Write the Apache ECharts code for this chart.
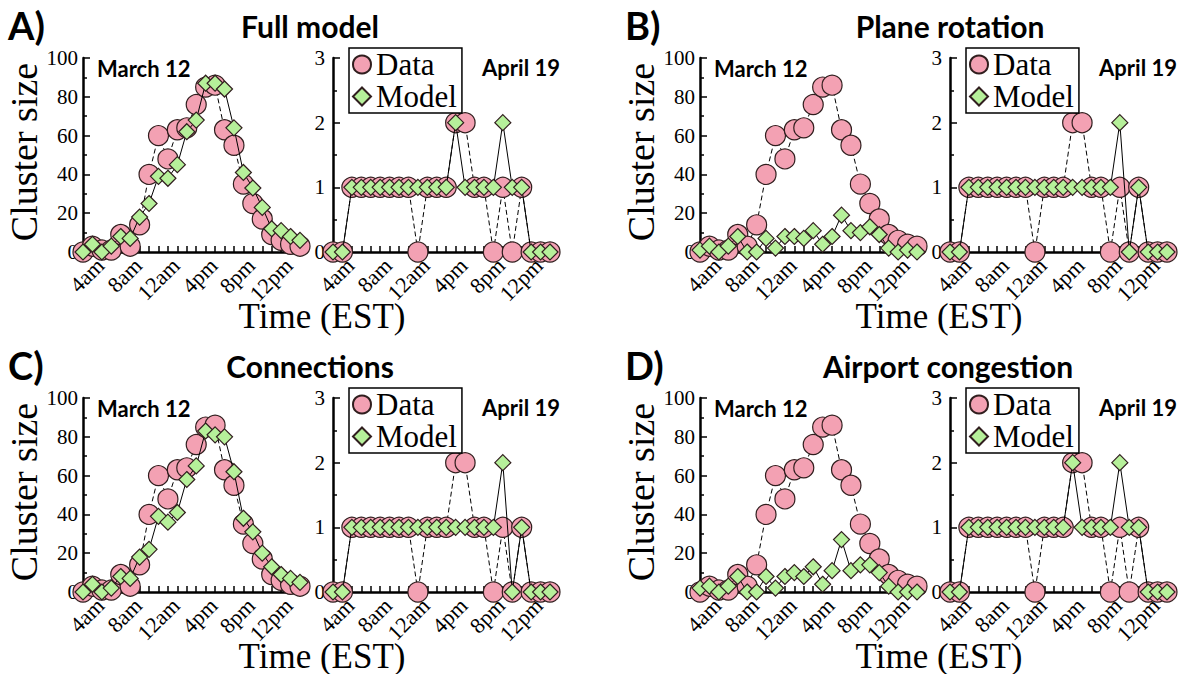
<!DOCTYPE html>
<html>
<head>
<meta charset="utf-8">
<script src="https://cdn.jsdelivr.net/npm/echarts@6/dist/echarts.min.js"></script>
<style>
html,body{margin:0;padding:0;background:#fff}
#main{width:1185px;height:674px}
</style>
</head>
<body>
<div id="main"></div>
<script>
// hourly samples, 3am .. 2am next day (figure labels noon "12am", midnight "12pm")
var hours = ['3am','4am','5am','6am','7am','8am','9am','10am','11am','12am','1pm','2pm',
             '3pm','4pm','5pm','6pm','7pm','8pm','9pm','10pm','11pm','12pm','1am','2am'];

// observed cluster sizes
var marchData = [0, 3, 1, 1, 9, 3, 14, 40, 60, 48, 63, 64, 76, 85, 86, 63, 55, 35, 25, 17, 9, 6, 4, 3];
var aprilData = [0, 0, 1, 1, 1, 1, 1, 1, 1, 0, 1, 1, 1, 2, 2, 1, 1, 0, 1, 0, 1, 0, 0, 0];

// model runs
var marchFull  = [0, 4, 0, 3, 8, 7, 18, 25, 39, 38, 45, 62, 68, 87, 87, 84, 64, 41, 33, 23, 12, 11, 8, 6];
var marchPlane = [1, 3, 0, 3, 8, 0, 0, 7, 2, 8, 8, 7, 11, 4, 8, 19, 11, 10, 13, 9, 2, 0, 1, 0];
var marchConn  = [0, 4, 0, 2, 8, 7, 18, 22, 39, 36, 41, 58, 65, 83, 81, 80, 62, 38, 31, 20, 13, 9, 7, 5];
var marchCong  = [2, 3, 0, 3, 8, 0, 0, 8, 2, 8, 10, 8, 13, 4, 11, 27, 11, 14, 14, 10, 3, 0, 0, 0];

var aprilFull  = [0, 0, 1, 1, 1, 1, 1, 1, 1, 1, 1, 1, 1, 2, 1, 1, 1, 1, 2, 1, 1, 0, 0, 0];
var aprilPlane = [0, 0, 1, 1, 1, 1, 1, 1, 1, 1, 1, 1, 1, 1, 1, 1, 1, 1, 2, 0, 1, 0, 0, 0];
var aprilConn  = [0, 0, 1, 1, 1, 1, 1, 1, 1, 1, 1, 1, 1, 1, 1, 1, 1, 1, 2, 0, 1, 0, 0, 0];
var aprilCong  = [0, 0, 1, 1, 1, 1, 1, 1, 1, 1, 1, 1, 1, 2, 1, 1, 1, 1, 2, 1, 1, 0, 0, 0];

var panelLetters = ['A)', 'B)', 'C)', 'D)'];
var panelTitles = ['Full model', 'Plane rotation', 'Connections', 'Airport congestion'];
var marchModels = [marchFull, marchPlane, marchConn, marchCong];
var aprilModels = [aprilFull, aprilPlane, aprilConn, aprilCong];

// layout (px)
var panelPos = [[0, 0], [617, 0], [0, 340], [617, 340]];
var titleX = [310, 333, 310, 331];

var SERIF = 'Liberation Serif';
var SANS = 'Lato';
var PINK = '#f3a1b3';
var GREEN = '#b6f09a';
var EDGE = '#301e1e';

var myChart = echarts.init(document.getElementById('main'), null, {renderer: 'svg'});

var grid = [], xAxis = [], yAxis = [], series = [], legend = [], graphic = [];

function addPlot(ox, oy, left, ymax, yint, data, model) {
    var k = grid.length;
    grid.push({left: ox + left, top: oy + 58, width: 217, height: 194});
    xAxis.push({
        type: 'category', gridIndex: k, data: hours, boundaryGap: false,
        axisLine: {show: true, lineStyle: {color: '#000', width: 2.5}},
        axisTick: {show: true, inside: true, interval: 0, length: 6, lineStyle: {color: '#000', width: 1.5}},
        axisLabel: {
            interval: function (i) { return i % 4 === 1; },
            rotate: 45, margin: 2, verticalAlign: 'top',
            color: '#000', fontFamily: SERIF, fontSize: 22
        },
        splitLine: {show: false}
    });
    yAxis.push({
        type: 'value', gridIndex: k, min: 0, max: ymax, interval: yint,
        axisLine: {show: true, lineStyle: {color: '#000', width: 2.5}},
        axisTick: {show: true, inside: true, length: 7, lineStyle: {color: '#000', width: 1.5}},
        minorTick: {show: true, splitNumber: 2, length: 4, lineStyle: {color: '#000', width: 1.5}},
        splitLine: {show: false},
        axisLabel: {color: '#000', fontFamily: SERIF, fontSize: 21, margin: ymax > 10 ? 5 : 8}
    });
    series.push({
        name: 'Data', type: 'line', xAxisIndex: k, yAxisIndex: k, data: data,
        symbol: 'circle', symbolSize: 20, showAllSymbol: true, clip: false, z: 2,
        lineStyle: {color: '#000', width: 1, type: [5, 3]},
        itemStyle: {color: PINK, borderColor: EDGE, borderWidth: 1.2},
        emphasis: {disabled: true}
    });
    series.push({
        name: 'Model', type: 'line', xAxisIndex: k, yAxisIndex: k, data: model,
        symbol: 'diamond', symbolSize: 16, showAllSymbol: true, clip: false, z: 3,
        lineStyle: {color: '#000', width: 1},
        itemStyle: {color: GREEN, borderColor: EDGE, borderWidth: 1.2},
        emphasis: {disabled: true}
    });
}

function txt(x, y, s, font, align, rot) {
    graphic.push({
        type: 'text', x: x, y: y, rotation: rot || 0,
        style: {text: s, font: font, fill: '#000', align: align, verticalAlign: 'middle'}
    });
}

panelPos.forEach(function (p, i) {
    var ox = p[0], oy = p[1];
    addPlot(ox, oy, 83, 100, 20, marchData, marchModels[i]);
    addPlot(ox, oy, 333, 3, 1, aprilData, aprilModels[i]);

    legend.push({
        left: ox + 349, top: oy + 48, orient: 'vertical', selectedMode: false,
        data: [{name: 'Data', icon: 'circle'}, {name: 'Model', icon: 'diamond'}],
        itemWidth: 18, itemHeight: 18, itemGap: 1,
        padding: [1, 5, 1, 3],
        borderColor: '#000', borderWidth: 1.5, backgroundColor: '#fff',
        textStyle: {fontFamily: SERIF, fontSize: 31, color: '#000', lineHeight: 28}
    });

    txt(ox + 8, oy + 25, panelLetters[i], 'bold 38px ' + SANS, 'left');
    txt(ox + titleX[i], oy + 26, panelTitles[i], 'bold 30px ' + SANS, 'center');
    txt(ox + 97, oy + 68, 'March 12', 'bold 22px ' + SANS, 'left');
    txt(ox + 560, oy + 67, 'April 19', 'bold 22px ' + SANS, 'right');
    txt(ox + 24, oy + 152, 'Cluster size', '38px ' + SERIF, 'center', Math.PI / 2);
    txt(ox + 322, oy + 316, 'Time (EST)', '35px ' + SERIF, 'center');
});

var option = {
    animation: false,
    backgroundColor: '#fff',
    grid: grid,
    xAxis: xAxis,
    yAxis: yAxis,
    legend: legend,
    series: series,
    graphic: graphic
};

myChart.setOption(option);
window.onresize = myChart.resize;
</script>
</body>
</html>
